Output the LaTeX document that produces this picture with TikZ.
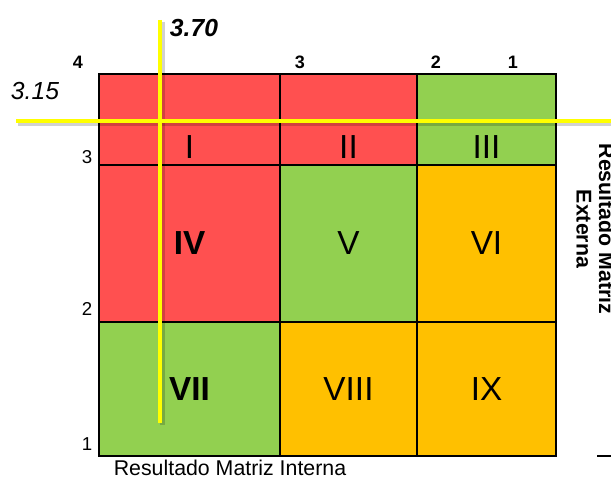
\documentclass[tikz,border=0pt]{standalone}
\usepackage{fontspec}
\setmainfont{Liberation Sans}
\definecolor{cellred}{HTML}{FF5050}
\definecolor{cellgreen}{HTML}{92D050}
\definecolor{cellorange}{HTML}{FFC000}
\definecolor{markyellow}{HTML}{FFFF00}
\begin{document}
\begin{tikzpicture}[x=0.75pt,y=-0.75pt,
  cell/.style={draw=black,line width=1.5pt,inner sep=0pt,outer sep=0pt},
  redcell/.style={cell,fill=cellred},
  greencell/.style={cell,fill=cellgreen},
  orangecell/.style={cell,fill=cellorange},
  colA/.style={minimum width=181*0.75pt},
  colB/.style={minimum width=137*0.75pt},
  colC/.style={minimum width=139*0.75pt},
  rowA/.style={minimum height=91*0.75pt},
  rowB/.style={minimum height=157*0.75pt},
  rowC/.style={minimum height=134*0.75pt},
  roman/.style={font=\fontsize{25}{30}\selectfont},
  romanbold/.style={font=\fontsize{25}{30}\selectfont\bfseries},
  topnum/.style={font=\fontsize{13.5}{15}\selectfont\bfseries},
  sidenum/.style={font=\fontsize{14}{16}\selectfont},
  cutval/.style={font=\fontsize{18.5}{22}\selectfont\itshape},
  axistitle/.style={font=\fontsize{16}{19}\selectfont},
  marker/.style={draw=markyellow,line width=3.4pt},
  markershadow/.style={draw=black,opacity=0.18,line width=3.4pt}
]
\useasboundingbox (0,0) rectangle (611,477);

% grid of the nine cells
\node[redcell,colA,rowA]    (c1) at (189.5,119.5) {};
\node[redcell,colB,rowA]    (c2) at (348.5,119.5) {};
\node[greencell,colC,rowA]  (c3) at (486.5,119.5) {};
\node[redcell,colA,rowB]    (c4) at (189.5,243.5) {};
\node[greencell,colB,rowB]  (c5) at (348.5,243.5) {};
\node[orangecell,colC,rowB] (c6) at (486.5,243.5) {};
\node[greencell,colA,rowC]  (c7) at (189.5,389) {};
\node[orangecell,colB,rowC] (c8) at (348.5,389) {};
\node[orangecell,colC,rowC] (c9) at (486.5,389) {};

% cell numbers
\node[roman]     (t1) at (189.5,147) {I};
\node[roman]     (t2) at (348.5,147) {II};
\node[roman]     (t3) at (486.5,147) {III};
\node[romanbold] (t4) at (c4.center) {IV};
\node[roman]     (t5) at (c5.center) {V};
\node[roman]     (t6) at (c6.center) {VI};
\node[romanbold] (t7) at (c7.center) {VII};
\node[roman]     (t8) at (c8.center) {VIII};
\node[roman]     (t9) at (c9.center) {IX};

% scale along the top
\node[topnum] (x4) at (78,62) {4};
\node[topnum] (x3) at (300,62) {3};
\node[topnum] (x2) at (436,62) {2};
\node[topnum] (x1) at (513,62) {1};

% scale along the left side
\node[sidenum] (y3) at (87,157) {3};
\node[sidenum] (y2) at (87,309) {2};
\node[sidenum] (y1) at (87,444) {1};

% axis titles
\node[axistitle] (xtitle) at (230,468) {Resultado Matriz Interna};
\node[font=\fontsize{16}{17}\selectfont\bfseries,rotate=-90,align=center]
  (ytitle) at (595.5,229) {Resultado Matriz\\Externa};
\coordinate (tickL) at (597,456);
\coordinate (tickR) at (611,456);
\draw[line width=1.2pt] (tickL) -- (tickR);

% position markers
\coordinate (hL) at (16,121);
\coordinate (hR) at (615,121);
\coordinate (vT) at (160,20);
\coordinate (vB) at (160,423);
\draw[markershadow] ([shift={(2,2.5)}]hL) -- ([shift={(2,2.5)}]hR);
\draw[markershadow] ([shift={(2.5,2)}]vT) -- ([shift={(2.5,2)}]vB);
\draw[marker] (hL) -- (hR);
\draw[marker] (vT) -- (vB);

% marker values
\node[cutval,font=\fontsize{18.5}{22}\selectfont\bfseries\itshape] (vx) at (194,28) {3.70};
\node[cutval] (vy) at (35,91) {3.15};
\end{tikzpicture}
\end{document}
